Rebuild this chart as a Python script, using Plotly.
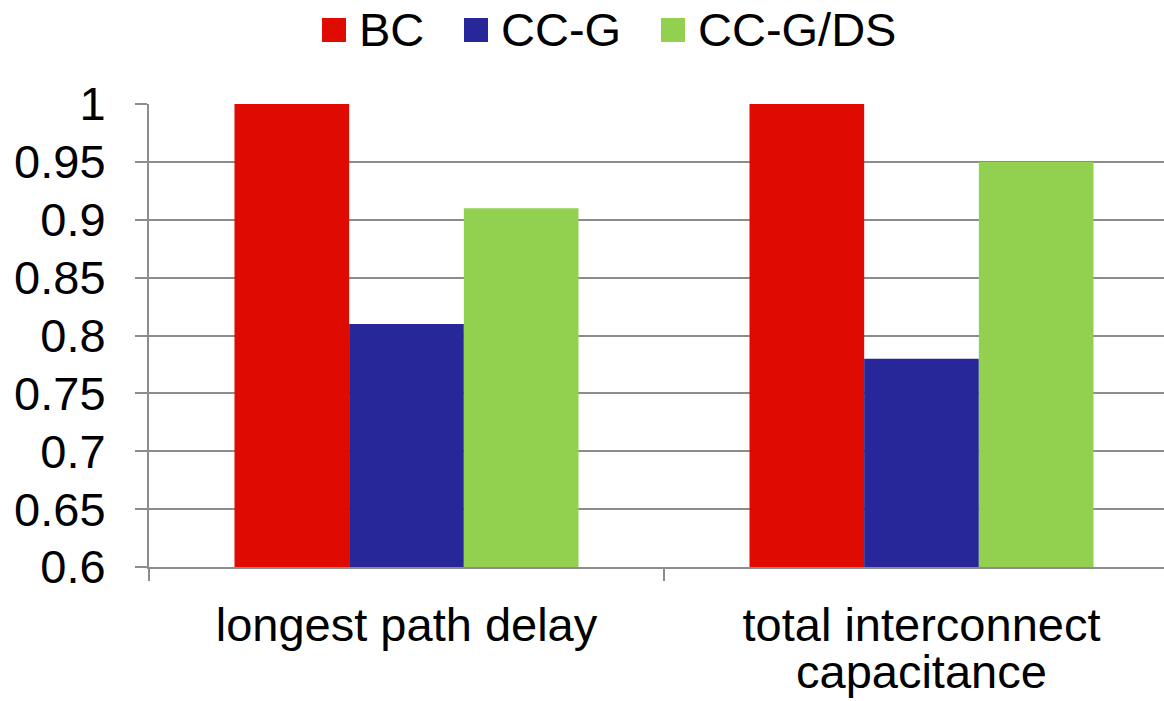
import plotly.graph_objects as go

categories = ["longest path delay", "total interconnect"]
category_extra = ["", "capacitance"]
series_names = ["BC", "CC-G", "CC-G/DS"]
bc_values = [1.00, 1.00]
ccg_values = [0.81, 0.78]
ccgds_values = [0.91, 0.95]
y_ticks = [0.6, 0.65, 0.7, 0.75, 0.8, 0.85, 0.9, 0.95, 1.0]
y_tick_text = ["0.6", "0.65", "0.7", "0.75", "0.8", "0.85", "0.9", "0.95", "1"]

colors = ["#E00B00", "#27279A", "#92D050"]
FONT = "Liberation Sans, Arial, sans-serif"
axis_gray = "#8C8C8C"

W, H = 1164, 701
left, top, bottom = 149, 104, 134
plot_w = W - left
plot_h = H - top - bottom
cat_px = 515.0


def px_x(px):
    return (px - left) / plot_w


def px_y(py):
    return (H - bottom - py) / plot_h


x_pos = list(range(len(categories)))

fig = go.Figure()
for name, vals, col in zip(series_names, [bc_values, ccg_values, ccgds_values], colors):
    fig.add_trace(go.Bar(x=x_pos, y=vals, name=name, showlegend=False,
                         marker=dict(color=col, line=dict(width=0))))

# second line of the long category label, drawn under its tick label
for xp, extra in zip(x_pos, category_extra):
    if extra:
        fig.add_annotation(x=xp, xref="x", y=px_y(671), yref="paper", text=extra,
                           showarrow=False, yanchor="middle",
                           font=dict(family=FONT, size=47, color="#000000"))

# legend row at the top: large coloured squares followed by the series names
legend_square_left = [322, 464, 661]
sq = 24
legend_cy = 30
for name, col, sx in zip(series_names, colors, legend_square_left):
    fig.add_shape(type="rect", xref="paper", yref="paper",
                  x0=px_x(sx), x1=px_x(sx + sq),
                  y0=px_y(legend_cy + sq / 2), y1=px_y(legend_cy - sq / 2),
                  fillcolor=col, line=dict(width=0), layer="above")
    fig.add_annotation(x=px_x(sx + sq + 11), xref="paper", y=px_y(legend_cy),
                       yref="paper", text=name, showarrow=False,
                       xanchor="left", yanchor="middle",
                       font=dict(family=FONT, size=47, color="#000000"))

fig.update_layout(
    width=W, height=H,
    margin=dict(l=left, r=0, t=top, b=bottom, pad=0),
    paper_bgcolor="white", plot_bgcolor="white",
    barmode="group", bargap=0.332, bargroupgap=0,
    font=dict(family=FONT, size=47, color="#000000"),
    showlegend=False,
    xaxis=dict(
        range=[-0.5, -0.5 + plot_w / cat_px],
        tickmode="array", tickvals=x_pos, ticktext=categories,
        ticks="", showgrid=False, zeroline=False,
        showline=True, linecolor=axis_gray, linewidth=2,
        tickfont=dict(family=FONT, size=47, color="#000000"),
        ticklabelstandoff=16,
        minor=dict(tick0=-0.5, dtick=1, ticks="outside", ticklen=12,
                   tickcolor=axis_gray, tickwidth=2, showgrid=False),
    ),
    yaxis=dict(
        range=[0.6, 1.0], tickmode="array", tickvals=y_ticks, ticktext=y_tick_text,
        ticks="outside", ticklen=12, tickcolor=axis_gray, tickwidth=2,
        showgrid=True, gridcolor=axis_gray, gridwidth=2,
        showline=True, linecolor=axis_gray, linewidth=2, zeroline=False,
        tickfont=dict(family=FONT, size=47, color="#000000"),
        ticklabelstandoff=20,
    ),
)

fig.write_html("out.html")
